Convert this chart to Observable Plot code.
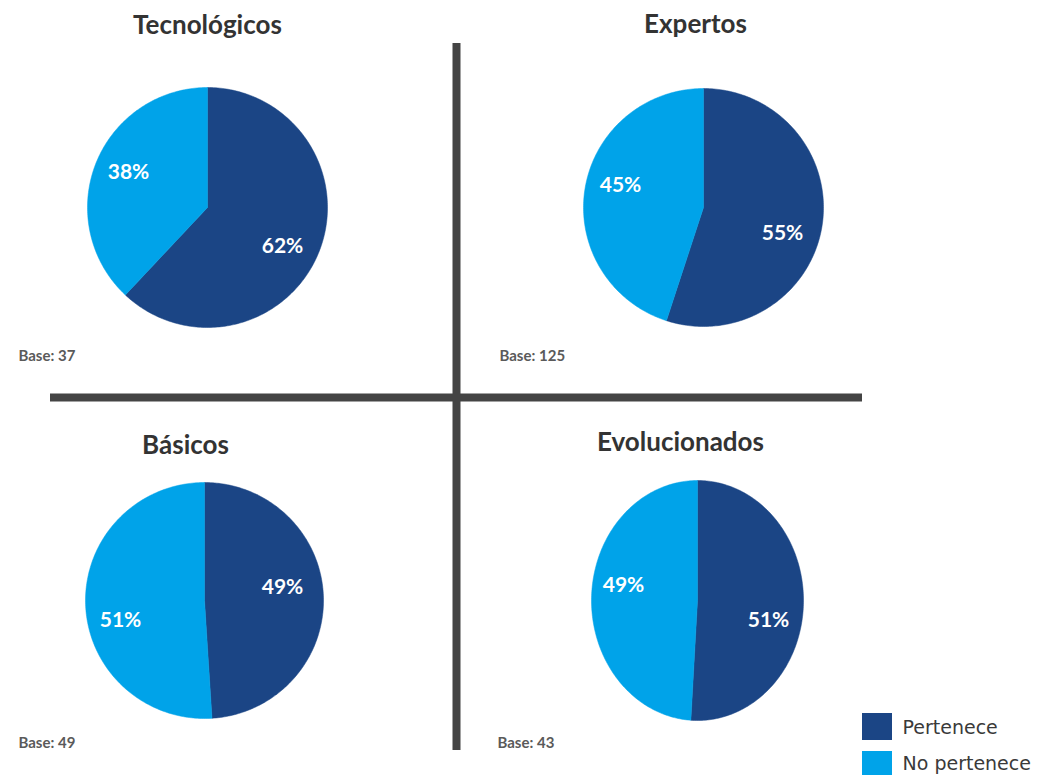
<!DOCTYPE html>
<html>
<head>
<meta charset="utf-8">
<script src="https://cdn.jsdelivr.net/npm/d3@7"></script>
<script src="https://cdn.jsdelivr.net/npm/@observablehq/plot@0.6"></script>
<style>
  html, body { margin: 0; padding: 0; background: #fff; }
  #chart svg { display: block; }
</style>
</head>
<body>
<div id="chart"></div>
<script>
// ---- Data ----
const groups = ["Tecnológicos", "Expertos", "Básicos", "Evolucionados"];
const pertenece = [62, 55, 49, 51];
const noPertenece = [38, 45, 51, 49];
const bases = [37, 125, 49, 43];
const seriesNames = ["Pertenece", "No pertenece"];
const seriesColors = ["#1b4585", "#00a3e9"];

// ---- Layout (pixel frame of the picture) ----
const W = 1055, H = 775;
const layout = [
  {cx: 207, cy: 207, rx: 120, ry: 120, tx: 207, ty: 25, bx: 18, by: 356, lab: [[75, 39], [-79, -35]]},
  {cx: 703, cy: 207, rx: 120, ry: 119, tx: 695, ty: 24, bx: 499, by: 356, lab: [[79, 26], [-83, -22]]},
  {cx: 204, cy: 600, rx: 119, ry: 118, tx: 185, ty: 445, bx: 18, by: 743, lab: [[78, -13], [-84, 20]]},
  {cx: 697, cy: 600, rx: 106, ry: 120, tx: 680, ty: 442, bx: 497, by: 743, lab: [[71, 20], [-74, -15]]}
];

// ---- Build wedge outlines from the values ----
const wedges = [];
const labels = [];
groups.forEach((g, i) => {
  const L = layout[i];
  const vals = [pertenece[i], noPertenece[i]];
  const total = vals[0] + vals[1];
  let start = 0;
  vals.forEach((v, j) => {
    const end = start + v / total;
    const id = g + "|" + seriesNames[j];
    wedges.push({id, series: seriesNames[j], x: L.cx, y: L.cy});
    const n = Math.max(2, Math.ceil((end - start) * 360));
    for (let k = 0; k <= n; k++) {
      const a = 2 * Math.PI * (start + (end - start) * k / n);
      wedges.push({id, series: seriesNames[j], x: L.cx + L.rx * Math.sin(a), y: L.cy - L.ry * Math.cos(a)});
    }
    wedges.push({id, series: seriesNames[j], x: L.cx, y: L.cy});
    labels.push({x: L.cx + L.lab[j][0], y: L.cy + L.lab[j][1], text: v + "%"});
    start = end;
  });
});

const titles = groups.map((g, i) => ({x: layout[i].tx, y: layout[i].ty, text: g}));
const baseLabels = bases.map((b, i) => ({x: layout[i].bx, y: layout[i].by, text: "Base: " + b}));
const legendItems = seriesNames.map((s, i) => ({
  series: s, x1: 862, x2: 892, y1: 713 + i * 38, y2: 740 + i * 38, tx: 902, ty: 727 + i * 36
}));

const fontMain = "Lato, 'Open Sans', sans-serif";

const chart = Plot.plot({
  width: W,
  height: H,
  margin: 0,
  style: {background: "#fff", fontFamily: fontMain, overflow: "visible"},
  x: {domain: [0, W], range: [0, W], axis: null},
  y: {domain: [0, H], range: [0, H], axis: null},
  color: {domain: seriesNames, range: seriesColors},
  marks: [
    Plot.line(wedges, {x: "x", y: "y", z: "id", fill: "series", stroke: "series", strokeWidth: 0.5, curve: "linear"}),
    Plot.ruleX([456], {y1: 43, y2: 750, stroke: "#444444", strokeWidth: 8}),
    Plot.ruleY([397], {x1: 50, x2: 862, stroke: "#444444", strokeWidth: 8}),
    Plot.text(titles, {x: "x", y: "y", text: "text", fontSize: 26, fontWeight: "bold", fill: "#333333", textAnchor: "middle"}),
    Plot.text(labels, {x: "x", y: "y", text: "text", fontSize: 21, fontWeight: "bold", fill: "#ffffff", textAnchor: "middle"}),
    Plot.text(baseLabels, {x: "x", y: "y", text: "text", fontSize: 15, fontWeight: "bold", fill: "#5a5a5a", textAnchor: "start"}),
    Plot.rect(legendItems, {x1: "x1", x2: "x2", y1: "y1", y2: "y2", fill: "series"}),
    Plot.text(legendItems, {x: "tx", y: "ty", text: "series", fontSize: 19, fontWeight: "normal", fill: "#3a3a3a", textAnchor: "start", fontFamily: "'DejaVu Sans', sans-serif", letterSpacing: "0.6px"})
  ]
});

document.getElementById("chart").appendChild(chart);
</script>
</body>
</html>
